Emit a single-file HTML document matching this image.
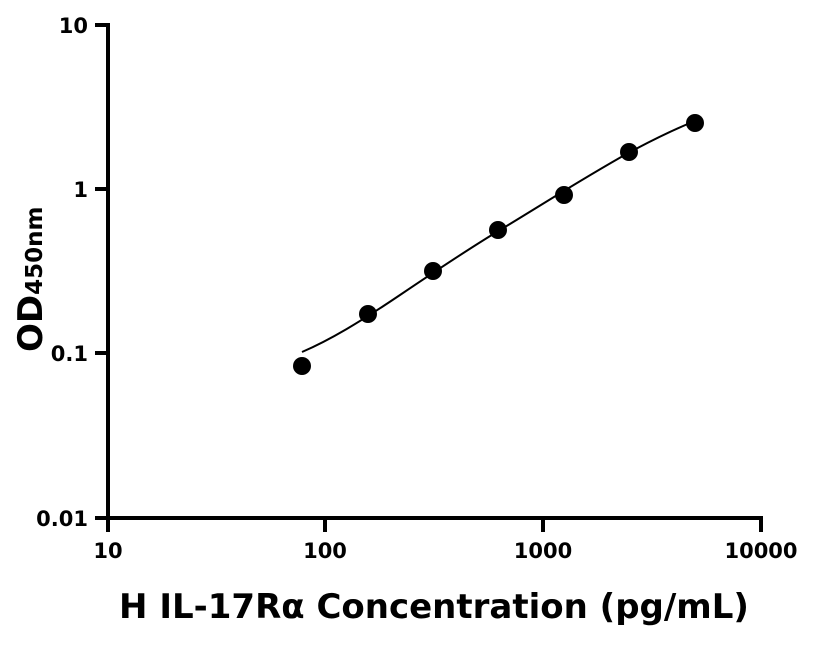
<!DOCTYPE html>
<html><head><style>body{margin:0;background:#fff}</style></head><body>
<svg width="816" height="640" xmlns="http://www.w3.org/2000/svg" font-family="DejaVu Sans, sans-serif" font-weight="bold">
<g stroke="#000" stroke-width="4" fill="none">
<line x1="108" y1="23" x2="108" y2="520"/>
<line x1="106" y1="518" x2="763" y2="518"/>
<line x1="95" y1="25" x2="108" y2="25"/>
<line x1="95" y1="189" x2="108" y2="189"/>
<line x1="95" y1="353" x2="108" y2="353"/>
<line x1="95" y1="518" x2="108" y2="518"/>
<line x1="108" y1="518" x2="108" y2="532"/>
<line x1="325" y1="518" x2="325" y2="532"/>
<line x1="543" y1="518" x2="543" y2="532"/>
<line x1="761" y1="518" x2="761" y2="532"/>
</g>
<g font-size="21" text-anchor="end">
<text x="88" y="33">10</text>
<text x="88" y="197">1</text>
<text x="88" y="361">0.1</text>
<text x="88" y="526">0.01</text>
</g>
<g font-size="21" text-anchor="middle">
<text x="108" y="558">10</text>
<text x="325" y="558">100</text>
<text x="543" y="558">1000</text>
<text x="761" y="558">10000</text>
</g>
<text x="434" y="618" font-size="34" text-anchor="middle">H IL-17Rα Concentration (pg/mL)</text>
<text transform="translate(42,352) rotate(-90)" font-size="34">OD<tspan font-size="23">450nm</tspan></text>
<path d="M302,352 C330,340 360,322 400,295 C440,268 470,248 500,230 C540,206 580,180 630,152 C660,136 680,127 695,121" stroke="#000" stroke-width="2" fill="none"/>
<g fill="#000">
<circle cx="302" cy="366" r="9"/>
<circle cx="368" cy="314" r="9"/>
<circle cx="433" cy="271" r="9"/>
<circle cx="498" cy="230" r="9"/>
<circle cx="564" cy="195" r="9"/>
<circle cx="629" cy="152" r="9"/>
<circle cx="695" cy="123" r="9"/>
</g>
</svg>
</body></html>
